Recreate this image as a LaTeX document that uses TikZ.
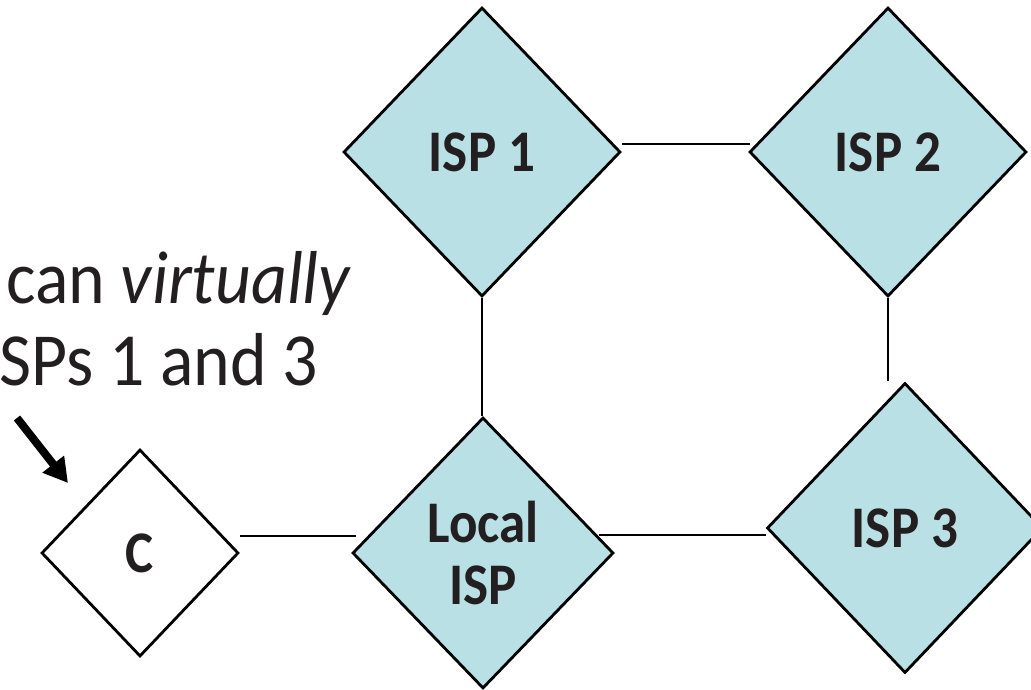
\documentclass[tikz,border=0pt]{standalone}
\usepackage{fontspec}
\setmainfont[FakeStretch=0.9]{Carlito}
\newfontfamily\notefont[FakeStretch=0.93]{Carlito}
\usetikzlibrary{shapes.geometric,arrows.meta}
\definecolor{ispfill}{RGB}{185,224,228}
\definecolor{ink}{RGB}{35,31,32}
\begin{document}
\begin{tikzpicture}[x=1pt,y=-1pt,
  router/.style={diamond,draw=black,line width=2.8pt,inner sep=0pt,
    text=ink,font=\fontsize{59}{62}\selectfont\bfseries,align=center},
  isp/.style={router,fill=ispfill},
  link/.style={draw=black,line width=2pt},
  note/.style={inner sep=0pt,text=ink,font=\notefont\fontsize{75}{82}\selectfont,anchor=base west},
  pointer/.style={line width=8pt,-{Triangle[length=24pt,width=26pt]}}]
\useasboundingbox (0,0) rectangle (1031,689);
\clip (0,0) rectangle (1031,689);

% routers
\node[isp,minimum width=277pt,minimum height=289pt] (isp1) at (482,152) {ISP 1};
\node[isp,minimum width=277pt,minimum height=289pt] (isp2) at (888,152) {ISP 2};
\node[isp,minimum width=261pt,minimum height=271pt] (local) at (483,553) {Local\\ISP};
\node[isp,minimum width=276pt,minimum height=290pt] (isp3) at (905,528) {ISP 3};
\node[router,fill=white,minimum width=197pt,minimum height=207pt] (c) at (140,553) {C};

% links between routers
\draw[link] ([yshift=8pt]isp1.east) -- ([yshift=8pt,xshift=2pt]isp2.west);
\draw[link] (isp1.south) -- (isp1.south |- local.north);
\draw[link] (isp2.south) -- ([yshift=1pt]isp2.south |- isp3.north);
\draw[link] ([xshift=-16pt,yshift=18pt]local.east) -- ([yshift=18pt]local.east -| isp3.west);
\draw[link] ([yshift=17pt]c.east) -- ([yshift=17pt,xshift=5pt]c.east -| local.west);

% annotation
\node[note] (line1) at (6,303) {can \textit{virtually}};
\node[note] (line2) at (-1,385) {SPs 1 and 3};
\coordinate (arrtail) at (17,418);
\coordinate (arrtip) at (68,483);
\draw[pointer] (arrtail) -- (arrtip);
\end{tikzpicture}
\end{document}
